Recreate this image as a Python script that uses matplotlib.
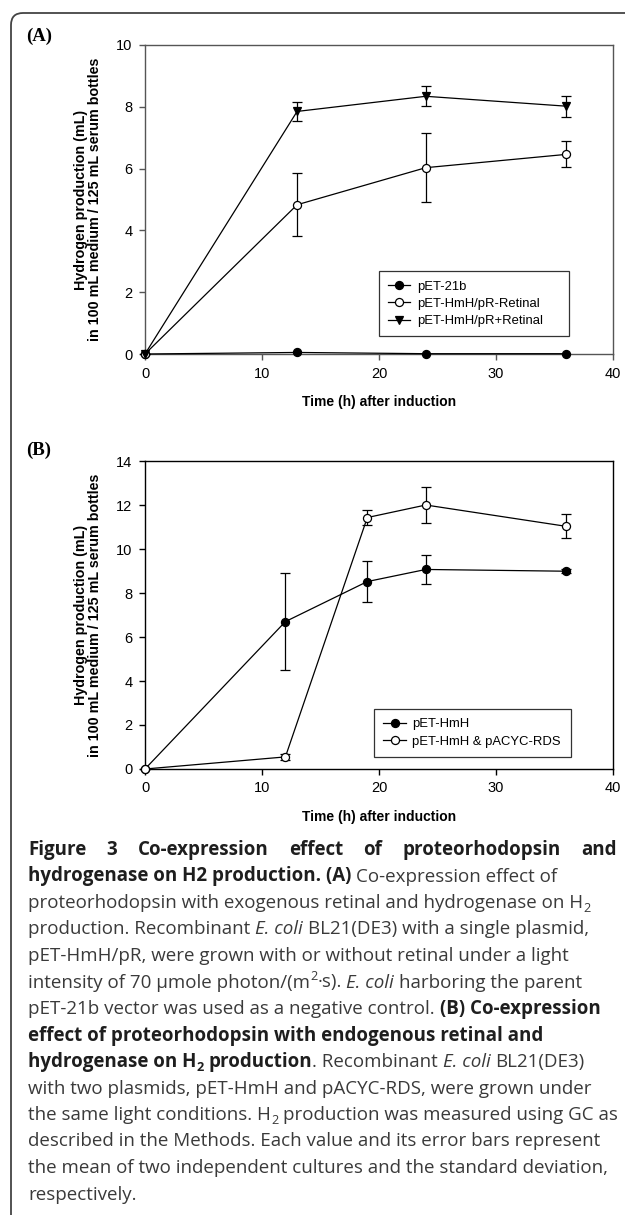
import matplotlib
matplotlib.use("Agg")
import matplotlib.pyplot as plt
from matplotlib.patches import FancyBboxPatch
from matplotlib.transforms import IdentityTransform

W, H = 625, 1215

# panel A: hydrogen (mL) vs time (h)
time_a = [0, 13, 24, 36]
ctrl_a = [0, 0.05, 0.01, 0.01]
minus_ret = [0, 4.83, 6.03, 6.46]
minus_ret_err = [0, 1.02, 1.11, 0.42]
plus_ret = [0, 7.85, 8.34, 8.02]
plus_ret_err = [0, 0.30, 0.32, 0.34]
labels_a = ["pET-21b", "pET-HmH/pR-Retinal", "pET-HmH/pR+Retinal"]

# panel B
time_b = [0, 12, 19, 24, 36]
hmh = [0, 6.70, 8.52, 9.07, 8.99]
hmh_err = [0, 2.19, 0.93, 0.66, 0.08]
rds = [0, 0.55, 11.43, 12.0, 11.03]
rds_err = [0, 0.13, 0.35, 0.80, 0.55]
labels_b = ["pET-HmH", "pET-HmH & pACYC-RDS"]

xlabel = "Time (h) after induction"
ylabel = "Hydrogen production (mL)\nin 100 mL medium / 125 mL serum bottles"

plt.rcParams['font.family'] = ['Liberation Sans', 'DejaVu Sans']

fig = plt.figure(figsize=(W / 100, H / 100), dpi=100)


def px_axes(left, top, right, bottom):
    return fig.add_axes([left / W, 1 - bottom / H, (right - left) / W, (bottom - top) / H])


def style(ax, ymax, col):
    ax.set_xlim(0, 40)
    ax.set_ylim(0, ymax)
    ax.set_xticks(range(0, 41, 10))
    ax.set_yticks(range(0, ymax + 1, 2))
    for s in ax.spines.values():
        s.set_color(col)
        s.set_linewidth(1.0)
    ax.tick_params(direction='out', length=4, width=1, color=col, labelsize=10.5, pad=5)
    ax.set_xlabel(xlabel, fontweight='bold', fontsize=10, va='center')
    ax.xaxis.set_label_coords(0.5, -0.155)
    ax.set_ylabel(ylabel, fontweight='bold', fontsize=10.3, va='center', linespacing=0.95)
    ax.yaxis.set_label_coords(-0.122, 0.5)


def series(ax, x, y, err, marker, face):
    c = ax.errorbar(x, y, yerr=err, color='black', lw=0.9, marker=marker, ms=5.8,
                    mfc=face, mec='black', mew=0.9, capsize=3.5, capthick=0.9,
                    elinewidth=0.9, clip_on=False, zorder=3)
    return c[0]  # the data line, used as legend handle


def legend(ax, handles, labels, box):
    lg = ax.legend(handles, labels, loc='lower left', bbox_to_anchor=box, mode='expand',
                   fontsize=9.4, frameon=True, fancybox=False, edgecolor='black',
                   handlelength=1.7, handletextpad=0.5, borderpad=0.7, labelspacing=0.4,
                   borderaxespad=0)
    lg.get_frame().set_linewidth(0.9)


ax1 = px_axes(145, 45, 613, 354)
h1 = [series(ax1, time_a, ctrl_a, None, 'o', 'black'),
      series(ax1, time_a, minus_ret, minus_ret_err, 'o', 'white'),
      series(ax1, time_a, plus_ret, plus_ret_err, 'v', 'black')]
style(ax1, 10, '#555555')
legend(ax1, h1, labels_a, (0.50, 0.057, 0.405, 0.2))

ax2 = px_axes(145, 461, 613, 769)
h2 = [series(ax2, time_b, hmh, hmh_err, 'o', 'black'),
      series(ax2, time_b, rds, rds_err, 'o', 'white')]
style(ax2, 14, 'black')
legend(ax2, h2, labels_b, (0.49, 0.04, 0.42, 0.15))

fig.text(39 / W, 1 - 36 / H, "(A)", family='Liberation Serif', fontweight='bold',
         fontsize=13.5, ha='center', va='center')
fig.text(39 / W, 1 - 450 / H, "(B)", family='Liberation Serif', fontweight='bold',
         fontsize=13.5, ha='center', va='center')

# outer rounded frame (only top and left sides visible)
fig.add_artist(FancyBboxPatch((11, -60), 700, H - 13 + 60,
                              boxstyle="round,pad=0,rounding_size=12",
                              transform=IdentityTransform(), fill=False,
                              ec='#444444', lw=1.3))

# caption
CAP_FONT = 'Open Sans'
CAP_SIZE = 13.5
REG = '#3a3a3a'
BLD = '#1e1e1e'
r = fig.canvas.get_renderer()


def props(st):
    bold = 'b' in st
    return dict(family=CAP_FONT, fontweight='bold' if bold else 'normal',
                fontstyle='italic' if 'i' in st else 'normal',
                color=BLD if bold else REG,
                fontsize=CAP_SIZE * (0.68 if ('_' in st or '^' in st) else 1))


def space_w(st):
    p = props(st)
    a = fig.text(0, 0, "x x", **p)
    b = fig.text(0, 0, "xx", **p)
    w = a.get_window_extent(r).width - b.get_window_extent(r).width
    a.remove()
    b.remove()
    return w


def put(x, y, s, st):
    dy = 4 if '_' in st else (-7 if '^' in st else 0)
    t = fig.text(x / W, 1 - (y + dy) / H, s, va='baseline', ha='left', **props(st))
    return t.get_window_extent(r).width


def cap_line(y, segs, x0=28, x1=617, justify=False):
    if justify:
        words = []
        for s, st in segs:
            words += [(w, st) for w in s.split()]
        ts = [fig.text(0, 0, w, **props(st)) for w, st in words]
        widths = [t.get_window_extent(r).width for t in ts]
        for t in ts:
            t.remove()
        gap = (x1 - x0 - sum(widths)) / (len(words) - 1)
        x = x0
        for (w, st), wd in zip(words, widths):
            put(x, y, w, st)
            x += wd + gap
        return
    x = x0
    for s, st in segs:
        sp = space_w(st)
        lead = len(s) - len(s.lstrip(' '))
        trail = len(s) - len(s.rstrip(' '))
        x += lead * sp
        core = s.strip(' ')
        if core:
            x += put(x, y, core, st)
        x += trail * sp


caption = [
    [("Figure 3 Co-expression effect of proteorhodopsin and", 'b')],
    [("hydrogenase on H2 production. (A)", 'b'), (" Co-expression effect of", 'r')],
    [("proteorhodopsin with exogenous retinal and hydrogenase on H", 'r'), ("2", 'r_')],
    [("production. Recombinant ", 'r'), ("E. coli", 'i'), (" BL21(DE3) with a single plasmid,", 'r')],
    [("pET-HmH/pR, were grown with or without retinal under a light", 'r')],
    [("intensity of 70 \u00b5mole photon/(m", 'r'), ("2", 'r^'), ("\u00b7s). ", 'r'), ("E. coli", 'i'),
     (" harboring the parent", 'r')],
    [("pET-21b vector was used as a negative control. ", 'r'), ("(B) Co-expression", 'b')],
    [("effect of proteorhodopsin with endogenous retinal and", 'b')],
    [("hydrogenase on H", 'b'), ("2", 'b_'), (" production", 'b'), (". Recombinant ", 'r'), ("E. coli", 'i'),
     (" BL21(DE3)", 'r')],
    [("with two plasmids, pET-HmH and pACYC-RDS, were grown under", 'r')],
    [("the same light conditions. H", 'r'), ("2", 'r_'), (" production was measured using GC as", 'r')],
    [("described in the Methods. Each value and its error bars represent", 'r')],
    [("the mean of two independent cultures and the standard deviation,", 'r')],
    [("respectively.", 'r')],
]

y0, dy = 855, 26.5
for i, segs in enumerate(caption):
    cap_line(y0 + i * dy, segs, justify=(i == 0))

fig.savefig("out.png", dpi=100)
